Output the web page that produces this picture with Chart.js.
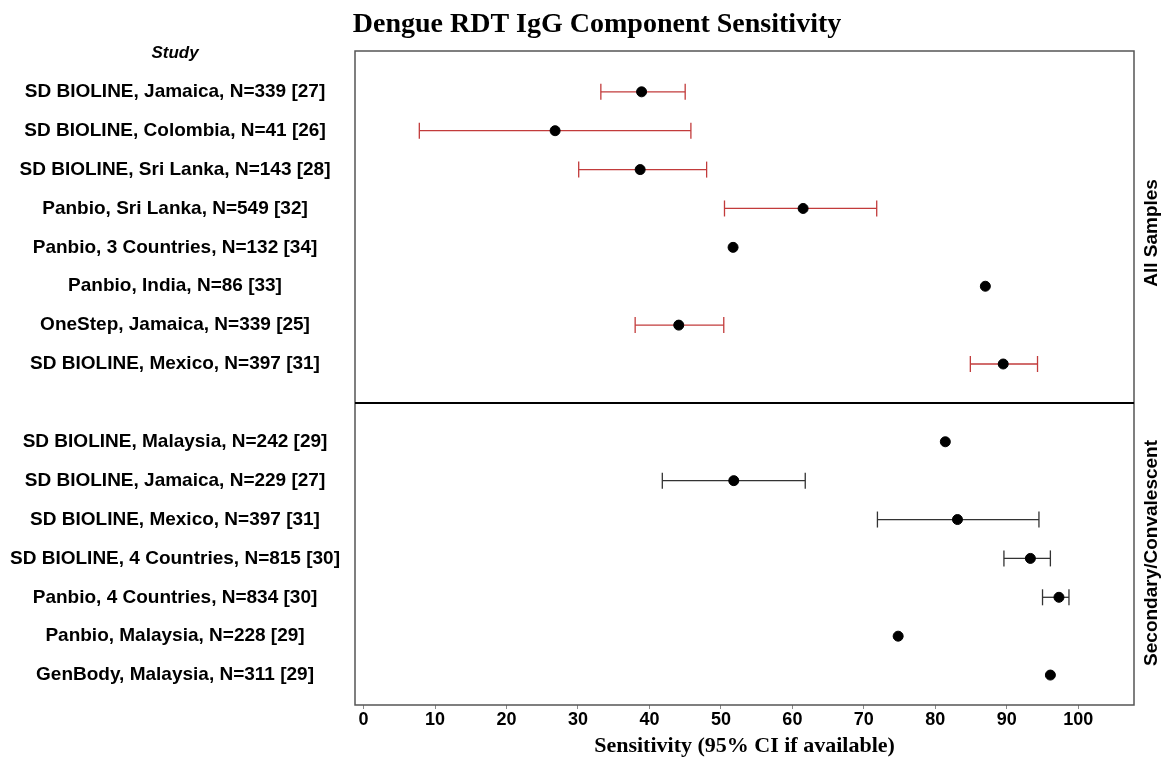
<!DOCTYPE html>
<html>
<head>
<meta charset="utf-8">
<title>Dengue RDT IgG Component Sensitivity</title>
<script src="https://cdn.jsdelivr.net/npm/chart.js@4.4.1/dist/chart.umd.min.js"></script>
<style>
  html, body { margin: 0; padding: 0; background: #fff; }
  #wrap { position: relative; width: 1168px; height: 757px; }
</style>
</head>
<body>
<div id="wrap"><canvas id="forestChart"></canvas></div>
<script>
// All Samples panel
const topLabels = [
  "SD BIOLINE, Jamaica, N=339 [27]",
  "SD BIOLINE, Colombia, N=41 [26]",
  "SD BIOLINE, Sri Lanka, N=143 [28]",
  "Panbio, Sri Lanka, N=549 [32]",
  "Panbio, 3 Countries, N=132 [34]",
  "Panbio, India, N=86 [33]",
  "OneStep, Jamaica, N=339 [25]",
  "SD BIOLINE, Mexico, N=397 [31]",
];
const topEst = [38.9, 26.8, 38.7, 61.5, 51.7, 87.0, 44.1, 89.5];
const topLow = [33.2, 7.8, 30.1, 50.5, null, null, 38.0, 84.9];
const topHigh = [45.0, 45.8, 48.0, 71.8, null, null, 50.4, 94.3];

// Secondary/Convalescent panel
const bottomLabels = [
  "SD BIOLINE, Malaysia, N=242 [29]",
  "SD BIOLINE, Jamaica, N=229 [27]",
  "SD BIOLINE, Mexico, N=397 [31]",
  "SD BIOLINE, 4 Countries, N=815 [30]",
  "Panbio, 4 Countries, N=834 [30]",
  "Panbio, Malaysia, N=228 [29]",
  "GenBody, Malaysia, N=311 [29]",
];
const bottomEst = [81.4, 51.8, 83.1, 93.3, 97.3, 74.8, 96.1];
const bottomLow = [null, 41.8, 71.9, 89.6, 95.0, null, null];
const bottomHigh = [null, 61.8, 94.5, 96.1, 98.7, null, null];

const panelNames = ["All Samples", "Secondary/Convalescent"];
const xTicks = [0, 10, 20, 30, 40, 50, 60, 70, 80, 90, 100];

const SANS = "'Liberation Sans', Arial, sans-serif";
const SERIF = "'Liberation Serif', 'Times New Roman', serif";

// row index for each study: top panel 0..n-1, one empty row, then bottom panel
const dividerRow = topLabels.length;
const topRows = topLabels.map((_, i) => i);
const bottomRows = bottomLabels.map((_, i) => dividerRow + 1 + i);
const lastRow = bottomRows[bottomRows.length - 1];

const rowLabel = {};
rowLabel[-1] = "Study";
topRows.forEach((r, i) => (rowLabel[r] = topLabels[i]));
bottomRows.forEach((r, i) => (rowLabel[r] = bottomLabels[i]));

function ciSets(rows, low, high, color) {
  const sets = [];
  rows.forEach((r, i) => {
    if (low[i] == null || high[i] == null) return;
    sets.push({
      data: [{ x: low[i], y: r }, { x: high[i], y: r }],
      showLine: true,
      borderColor: color,
      borderWidth: 1.3,
      pointStyle: "line",
      rotation: 90,
      pointRadius: 8,
      pointBorderColor: color,
      pointBorderWidth: 1.3,
      order: 1,
    });
  });
  return sets;
}

const estPoints = [
  ...topRows.map((r, i) => ({ x: topEst[i], y: r })),
  ...bottomRows.map((r, i) => ({ x: bottomEst[i], y: r })),
];

const frame = {
  id: "frame",
  afterDatasetsDraw(chart) {
    const { ctx, chartArea: a, scales } = chart;
    ctx.save();
    ctx.strokeStyle = "#555";
    ctx.lineWidth = 1.5;
    ctx.strokeRect(a.left, a.top, a.right - a.left, a.bottom - a.top);
    const yDiv = scales.y.getPixelForValue(dividerRow);
    ctx.strokeStyle = "#000";
    ctx.lineWidth = 2;
    ctx.beginPath();
    ctx.moveTo(a.left, yDiv);
    ctx.lineTo(a.right, yDiv);
    ctx.stroke();
    ctx.restore();
  },
  afterDraw(chart) {
    const { ctx, chartArea: a, scales } = chart;
    const yDiv = scales.y.getPixelForValue(dividerRow);
    ctx.save();
    ctx.fillStyle = "#000";
    ctx.textAlign = "center";
    ctx.textBaseline = "alphabetic";
    ctx.font = "bold 28px " + SERIF;
    ctx.fillText("Dengue RDT IgG Component Sensitivity", 597, 32);

    ctx.font = "bold 19px " + SANS;
    ctx.textBaseline = "middle";
    const mids = [(a.top + yDiv) / 2 + 6, (yDiv + a.bottom) / 2 - 1];
    mids.forEach((m, i) => {
      ctx.save();
      ctx.translate(a.right + 18, m);
      ctx.rotate(-Math.PI / 2);
      ctx.fillText(panelNames[i], 0, 0);
      ctx.restore();
    });
    ctx.restore();
  },
};

new Chart(document.getElementById("forestChart"), {
  type: "scatter",
  data: {
    datasets: [
      {
        data: estPoints,
        pointRadius: 5,
        pointHoverRadius: 5,
        backgroundColor: "#000",
        borderColor: "#000",
        order: 0,
      },
      ...ciSets(topRows, topLow, topHigh, "#c23b3b"),
      ...ciSets(bottomRows, bottomLow, bottomHigh, "#333"),
    ],
  },
  options: {
    responsive: true,
    maintainAspectRatio: false,
    animation: false,
    layout: { padding: { top: 51, right: 34, left: 0, bottom: 0 } },
    plugins: {
      legend: { display: false },
      tooltip: { enabled: false },
    },
    scales: {
      x: {
        type: "linear",
        min: -1.2,
        max: 107.8,
        afterBuildTicks: (scale) => {
          scale.ticks = xTicks.map((v) => ({ value: v }));
        },
        afterFit: (scale) => {
          scale.height = 52;
        },
        border: { display: false },
        grid: { drawOnChartArea: false, drawTicks: true, tickLength: 4, color: "#888" },
        ticks: {
          padding: 0,
          color: "#000",
          font: { family: SANS, size: 18, weight: "bold" },
        },
        title: {
          display: true,
          text: "Sensitivity (95% CI if available)",
          color: "#000",
          font: { family: SERIF, size: 22, weight: "bold", lineHeight: 1 },
          padding: { top: 0, bottom: 0 },
        },
      },
      y: {
        type: "linear",
        reverse: true,
        min: -1.05,
        max: lastRow + 0.77,
        afterBuildTicks: (scale) => {
          scale.ticks = [-1, ...topRows, ...bottomRows].map((v) => ({ value: v }));
        },
        afterFit: (scale) => {
          scale.width = 355;
        },
        border: { display: false },
        grid: { display: false, drawTicks: false },
        ticks: {
          crossAlign: "center",
          padding: 15,
          color: "#000",
          font: (c) =>
            c.tick && c.tick.value === -1
              ? { family: SANS, size: 17, weight: "bold", style: "italic" }
              : { family: SANS, size: 19, weight: "bold" },
          callback: (value) => rowLabel[value] ?? "",
        },
      },
    },
  },
  plugins: [frame],
});
</script>
</body>
</html>
